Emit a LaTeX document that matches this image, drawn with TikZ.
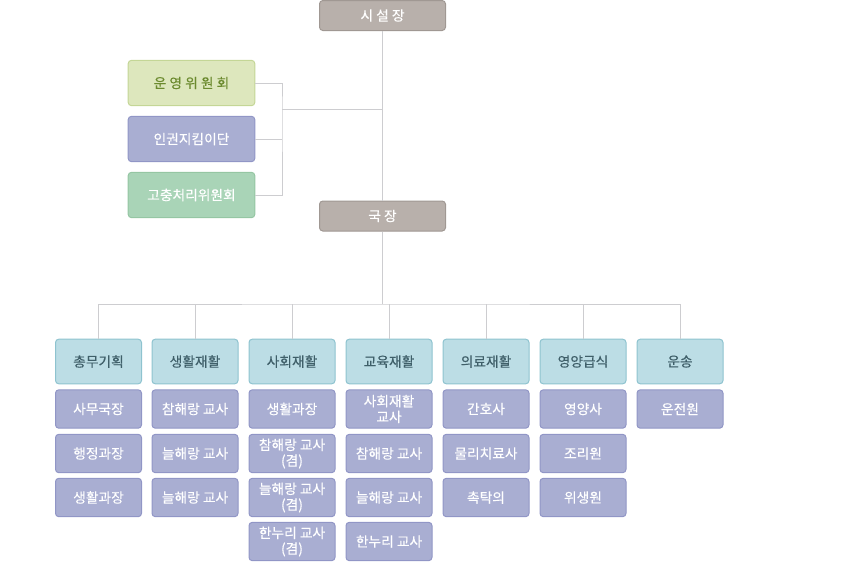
\documentclass[tikz,border=0pt]{standalone}
\usepackage{fontspec}
\newfontfamily\krfont[FakeBold=0.35]{Noto Sans CJK KR}
\usepackage{tikz}
\usetikzlibrary{positioning,calc}
\usepackage{xcolor}
\definecolor{chiefgray}{RGB}{184,176,171}
\definecolor{chiefedge}{RGB}{160,152,147}
\definecolor{leafgreen}{RGB}{221,231,189}
\definecolor{leafedge}{RGB}{196,214,150}
\definecolor{leaftext}{RGB}{107,138,46}
\definecolor{mintgreen}{RGB}{169,212,183}
\definecolor{mintedge}{RGB}{149,198,163}
\definecolor{skyblue}{RGB}{188,221,229}
\definecolor{skyedge}{RGB}{142,195,207}
\definecolor{skytext}{RGB}{63,95,105}
\definecolor{lilac}{RGB}{169,174,210}
\definecolor{lilacedge}{RGB}{145,150,198}
\definecolor{wire}{RGB}{205,205,208}

\begin{document}
\begin{tikzpicture}[
    x=0.75pt, y=-0.75pt,
    box/.style={draw, line width=0.75pt, rounded corners=2.5pt, inner sep=0pt, align=center,
        font=\krfont\fontsize{10.3}{11.8}\selectfont},
    chief/.style={box, fill=chiefgray, draw=chiefedge, text=white, minimum width=94.5pt, minimum height=22.5pt},
    board/.style={box, minimum width=95pt, minimum height=34pt},
    head/.style={box, fill=skyblue, draw=skyedge, text=skytext, minimum width=64.5pt, minimum height=33.5pt},
    staff/.style={box, fill=lilac, draw=lilacedge, text=white, minimum width=64.5pt, minimum height=28.8pt},
    link/.style={draw=wire, line width=0.75pt}
]
\useasboundingbox (0,0) rectangle (857,578);

% Heads
\node[chief] (top) at (382.5,15.5) {시 설 장};
\node[chief] (guk) at (382.5,216) {국 장};

% Committees
\node[board, fill=leafgreen, draw=leafedge, text=leaftext] (c1) at (191.5,83) {운 영 위 원 회};
\node[board, fill=lilac, draw=lilacedge, text=white] (c2) at (191.5,139) {인권지킴이단};
\node[board, fill=mintgreen, draw=mintedge, text=white] (c3) at (191.5,195) {고충처리위원회};

% Departments
\foreach \i/\x/\lab in {1/98.5/총무기획, 2/195/생활재활, 3/292/사회재활, 4/389/교육재활,
                        5/486/의료재활, 6/583/영양급식, 7/680/운송}
    \node[head] (h\i) at (\x,361.5) {\lab};

% Staff, column by column
\node[staff] (s11) at (98.5,409)   {사무국장};
\node[staff] (s12) at (98.5,453.5) {행정과장};
\node[staff] (s13) at (98.5,497.5) {생활과장};

\node[staff] (s21) at (195,409)   {참해랑 교사};
\node[staff] (s22) at (195,453.5) {늘해랑 교사};
\node[staff] (s23) at (195,497.5) {늘해랑 교사};

\node[staff] (s31) at (292,409)   {생활과장};
\node[staff] (s32) at (292,453.5) {참해랑 교사\\(겸)};
\node[staff] (s33) at (292,497.5) {늘해랑 교사\\(겸)};
\node[staff] (s34) at (292,541.5) {한누리 교사\\(겸)};

\node[staff] (s41) at (389,409)   {사회재활\\교사};
\node[staff] (s42) at (389,453.5) {참해랑 교사};
\node[staff] (s43) at (389,497.5) {늘해랑 교사};
\node[staff] (s44) at (389,541.5) {한누리 교사};

\node[staff] (s51) at (486,409)   {간호사};
\node[staff] (s52) at (486,453.5) {물리치료사};
\node[staff] (s53) at (486,497.5) {촉탁의};

\node[staff] (s61) at (583,409)   {영양사};
\node[staff] (s62) at (583,453.5) {조리원};
\node[staff] (s63) at (583,497.5) {위생원};

\node[staff] (s71) at (680,409)   {운전원};

% Wiring
\coordinate (lj) at (282,109);
\coordinate (bus) at (382.5,304);
\draw[link] (top.south) -- (guk.north);
\draw[link] (c1.east) -| (lj) |- (c3.east);
\draw[link] (c2.east) -- (c2.east -| lj);
\draw[link] (lj) -- (lj -| top.south);
\draw[link] (guk.south) -- (bus);
\draw[link] (h1.north) |- (bus) -| (h7.north);
\foreach \i in {2,...,6}
    \draw[link] (h\i.north) -- (h\i.north |- bus);
\end{tikzpicture}
\end{document}
